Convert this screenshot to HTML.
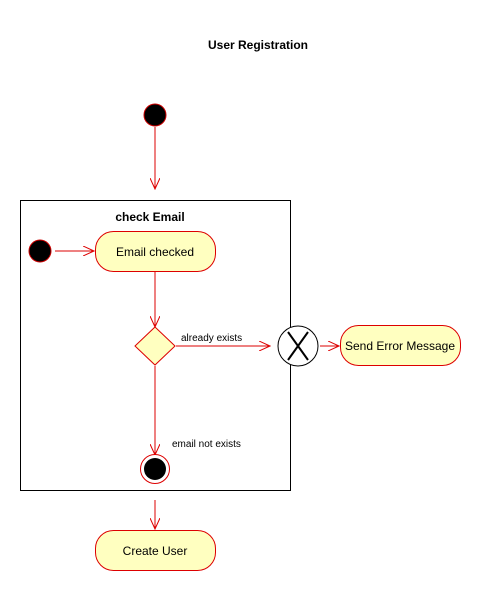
<!DOCTYPE html>
<html><head><style>body{margin:0;background:#fff}</style></head><body>
<svg width="481" height="591" xmlns="http://www.w3.org/2000/svg" font-family="Liberation Sans, sans-serif">
<defs><marker id="a" markerWidth="12" markerHeight="10" refX="11" refY="5" orient="auto" markerUnits="userSpaceOnUse"><path d="M0,0 L11,5 L0,10" fill="none" stroke="#d00" stroke-width="1"/></marker></defs>
<text x="258" y="49" font-size="12" font-weight="bold" text-anchor="middle">User Registration</text>
<circle cx="155" cy="115" r="11" fill="#000" stroke="#c00"/>
<line x1="155" y1="127" x2="155" y2="189" stroke="#d00" marker-end="url(#a)"/>
<rect x="20.5" y="200.5" width="270" height="290" fill="none" stroke="#000"/>
<text x="150" y="221" font-size="12" font-weight="bold" text-anchor="middle">check Email</text>
<circle cx="40" cy="251" r="11" fill="#000" stroke="#c00"/>
<line x1="55" y1="251" x2="94" y2="251" stroke="#d00" marker-end="url(#a)"/>
<rect x="95.5" y="231.5" width="120" height="40" rx="18" fill="#ffffc0" stroke="#d00"/>
<text x="155" y="256" font-size="12" text-anchor="middle">Email checked</text>
<line x1="155" y1="272" x2="155" y2="327" stroke="#d00" marker-end="url(#a)"/>
<polygon points="155,327 175,346 155,365 135,346" fill="#ffffc0" stroke="#d00"/>
<line x1="176" y1="346" x2="270" y2="346" stroke="#d00" marker-end="url(#a)"/>
<text x="181" y="341" font-size="10">already exists</text>
<circle cx="298" cy="346" r="20" fill="#fff" stroke="#000"/>
<path d="M288,332 L308,360 M308,332 L288,360" stroke="#000" stroke-width="2"/>
<line x1="320" y1="346" x2="339" y2="346" stroke="#d00" marker-end="url(#a)"/>
<rect x="340.5" y="325.5" width="120" height="40" rx="18" fill="#ffffc0" stroke="#d00"/>
<text x="400" y="350" font-size="12" text-anchor="middle">Send Error Message</text>
<line x1="155" y1="366" x2="155" y2="455" stroke="#d00" marker-end="url(#a)"/>
<text x="172" y="447" font-size="10">email not exists</text>
<circle cx="155" cy="469" r="14.5" fill="#fff" stroke="#d00"/>
<circle cx="155" cy="469" r="11" fill="#000"/>
<line x1="155" y1="500" x2="155" y2="529" stroke="#d00" marker-end="url(#a)"/>
<rect x="95.5" y="530.5" width="120" height="40" rx="18" fill="#ffffc0" stroke="#d00"/>
<text x="155" y="555" font-size="12" text-anchor="middle">Create User</text>
</svg>
</body></html>
